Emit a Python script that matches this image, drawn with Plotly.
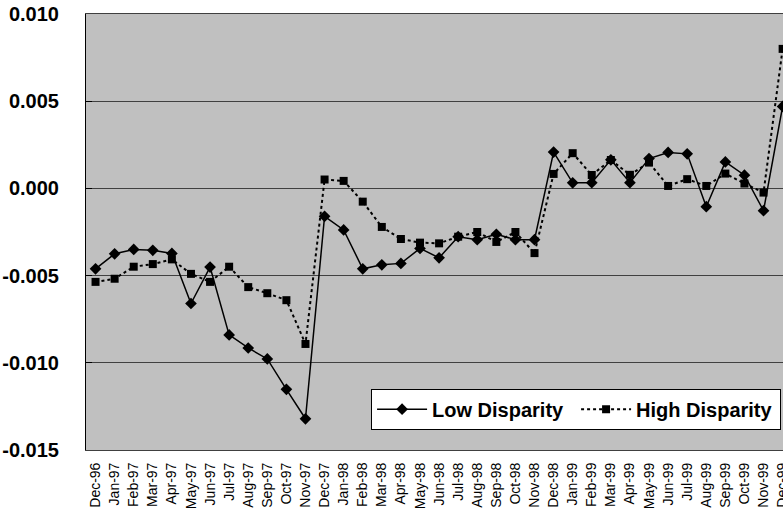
import plotly.graph_objects as go

months = [
    "Dec-96", "Jan-97", "Feb-97", "Mar-97", "Apr-97", "May-97", "Jun-97", "Jul-97",
    "Aug-97", "Sep-97", "Oct-97", "Nov-97", "Dec-97", "Jan-98", "Feb-98", "Mar-98",
    "Apr-98", "May-98", "Jun-98", "Jul-98", "Aug-98", "Sep-98", "Oct-98", "Nov-98",
    "Dec-98", "Jan-99", "Feb-99", "Mar-99", "Apr-99", "May-99", "Jun-99", "Jul-99",
    "Aug-99", "Sep-99", "Oct-99", "Nov-99", "Dec-99",
]

low_disparity = [
    -0.00461, -0.00375, -0.00350, -0.00355, -0.00373, -0.00660, -0.00451, -0.00840,
    -0.00915, -0.00978, -0.01152, -0.01321, -0.00160, -0.00238, -0.00461, -0.00438,
    -0.00430, -0.00344, -0.00398, -0.00277, -0.00294, -0.00263, -0.00294, -0.00294,
    0.00208, 0.00032, 0.00033, 0.00164, 0.00033, 0.00171, 0.00206, 0.00198,
    -0.00105, 0.00152, 0.00076, -0.00128, 0.00470,
]

high_disparity = [
    -0.00536, -0.00518, -0.00449, -0.00434, -0.00407, -0.00490, -0.00536, -0.00449,
    -0.00566, -0.00601, -0.00641, -0.00892, 0.00051, 0.00043, -0.00076, -0.00221,
    -0.00290, -0.00311, -0.00315, -0.00277, -0.00250, -0.00307, -0.00250, -0.00371,
    0.00083, 0.00202, 0.00077, 0.00163, 0.00078, 0.00148, 0.00014, 0.00053,
    0.00014, 0.00085, 0.00028, -0.00024, 0.00800,
]

y_tick_values = [-0.015, -0.010, -0.005, 0.000, 0.005, 0.010]
y_tick_labels = ["-0.015", "-0.010", "-0.005", "0.000", "0.005", "0.010"]

FONT = "Liberation Sans, Arial, sans-serif"

fig = go.Figure()
fig.add_trace(go.Scatter(
    x=months, y=low_disparity, name="Low Disparity", mode="lines+markers",
    line=dict(color="black", width=1.5),
    marker=dict(symbol="diamond", size=9, color="black"),
))
fig.add_trace(go.Scatter(
    x=months, y=high_disparity, name="High Disparity", mode="lines+markers",
    line=dict(color="black", width=2, dash="dot"),
    marker=dict(symbol="square", size=8, color="black"),
))

fig.update_layout(
    template="none",
    width=783, height=510,
    margin=dict(l=86, r=0, t=14, b=60, pad=0),
    paper_bgcolor="white",
    plot_bgcolor="#C0C0C0",
    font=dict(family=FONT, color="black"),
    showlegend=True,
    legend=dict(
        orientation="h",
        x=0.409, y=0.1406, xanchor="left", yanchor="top",
        bgcolor="white", bordercolor="black", borderwidth=1,
        font=dict(family=FONT, size=20, color="black", weight="bold"),
        itemwidth=50,
        entrywidth=139, entrywidthmode="pixels",
        traceorder="normal",
    ),
    xaxis=dict(
        type="category",
        range=[-0.5, 36.02],
        automargin=False,
        tickmode="linear", tick0=0, dtick=1,
        showgrid=False,
        showline=True, linecolor="#404040", linewidth=1, mirror=True,
        ticks="", tickangle=-90,
        tickfont=dict(family=FONT, size=14, color="black"),
        ticklabelstandoff=6,
    ),
    yaxis=dict(
        range=[-0.015, 0.010],
        automargin=False,
        tickvals=y_tick_values, ticktext=y_tick_labels,
        showgrid=True, gridcolor="#404040", gridwidth=1,
        showline=True, linecolor="black", linewidth=1,
        ticks="inside", ticklen=6, tickcolor="black",
        tickfont=dict(family=FONT, size=20, color="black", weight="bold"),
        ticklabelstandoff=22,
        zeroline=False,
    ),
)

fig.write_html("out.html")
